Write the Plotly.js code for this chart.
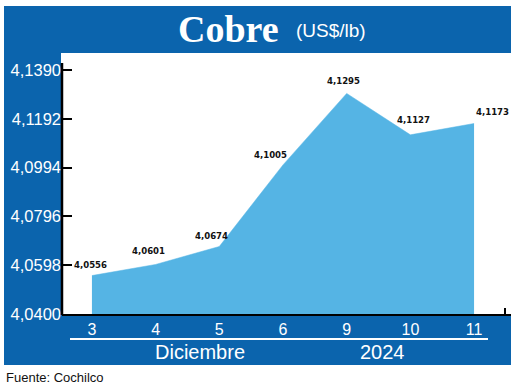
<!DOCTYPE html>
<html>
<head>
<meta charset="utf-8">
<script src="https://cdn.plot.ly/plotly-3.0.1.min.js"></script>
<style>html,body{margin:0;padding:0;background:#fff;}#chart{width:520px;height:387px;}</style>
</head>
<body>
<div id="chart"></div>
<script>
// Data
const days = ["3", "4", "5", "6", "9", "10", "11"];
const prices = [4.0556, 4.0601, 4.0674, 4.1005, 4.1295, 4.1127, 4.1173];
const priceLabels = ["4,0556", "4,0601", "4,0674", "4,1005", "4,1295", "4,1127", "4,1173"];
const yTickVals = [4.0400, 4.0598, 4.0796, 4.0994, 4.1192, 4.1390];
const yTickText = ["4,0400", "4,0598", "4,0796", "4,0994", "4,1192", "4,1390"];
const monthLabel = "Diciembre";
const yearLabel = "2024";

// Style / layout helpers
const W = 520, H = 387;
const M = {l: 62, r: 9, t: 53, b: 73};
const PW = W - M.l - M.r, PH = H - M.t - M.b;
const px = x => (x - M.l) / PW;
const py = y => (H - M.b - y) / PH;
const BLUE = "#0b64ad";
const AREA = "#55b4e4";
const labelShift = [[-1, 4], [-7, 6], [-8, 3], [-13, 3], [-3, 5], [3, 8], [18, 4]];

const trace = {
  x: days, y: prices, type: "scatter", mode: "lines",
  fill: "tozeroy", fillcolor: AREA,
  line: {color: AREA, width: 0.5}, hoverinfo: "skip"
};

const annotations = days.map((d, i) => ({
  x: i, y: prices[i], xref: "x", yref: "y", text: "<b>" + priceLabels[i] + "</b>",
  showarrow: false, xanchor: "center", yanchor: "bottom",
  xshift: labelShift[i][0], yshift: labelShift[i][1],
  font: {family: "DejaVu Sans Condensed, Liberation Sans, sans-serif", size: 9.5, color: "#111"}
}));

annotations.push(
  {xref: "paper", yref: "paper", x: px(228), y: py(29), text: "<b>Cobre</b>", showarrow: false,
   xanchor: "center", yanchor: "middle", font: {family: "Liberation Serif, serif", size: 38, color: "#fff"}},
  {xref: "paper", yref: "paper", x: px(331), y: py(31), text: "(US$/lb)", showarrow: false,
   xanchor: "center", yanchor: "middle", font: {family: "Liberation Sans, Arial, sans-serif", size: 19, color: "#fff"}},
  {xref: "paper", yref: "paper", x: px(200), y: py(352), text: monthLabel, showarrow: false,
   xanchor: "center", yanchor: "middle", font: {family: "Liberation Sans, Arial, sans-serif", size: 20, color: "#fff"}},
  {xref: "paper", yref: "paper", x: px(382), y: py(352), text: yearLabel, showarrow: false,
   xanchor: "center", yanchor: "middle", font: {family: "Liberation Sans, Arial, sans-serif", size: 20, color: "#fff"}},
  {xref: "paper", yref: "paper", x: px(4), y: py(377), text: "Fuente: Cochilco", showarrow: false,
   xanchor: "left", yanchor: "middle", font: {family: "Liberation Sans, Arial, sans-serif", size: 13, color: "#111"}}
);

const shapes = [
  {type: "rect", xref: "paper", yref: "paper", layer: "below", x0: px(4), x1: px(511), y0: py(6), y1: py(53), fillcolor: BLUE, line: {width: 0}},
  {type: "rect", xref: "paper", yref: "paper", layer: "below", x0: px(4), x1: px(61), y0: py(53), y1: py(365), fillcolor: BLUE, line: {width: 0}},
  {type: "rect", xref: "paper", yref: "paper", layer: "below", x0: px(4), x1: px(511), y0: py(314), y1: py(365), fillcolor: BLUE, line: {width: 0}},
  {type: "line", xref: "paper", yref: "paper", layer: "above", x0: px(70), x1: px(488), y0: py(339), y1: py(339), line: {color: "#fff", width: 2}},
  {type: "line", xref: "paper", yref: "paper", layer: "above", x0: px(505), x1: px(505), y0: py(314), y1: py(308), line: {color: "#000", width: 2}},
  {type: "line", xref: "paper", yref: "paper", layer: "above", x0: px(62), x1: px(62), y0: py(63), y1: py(315), line: {color: "#000", width: 2.5}}
];

const layout = {
  width: W, height: H, margin: M,
  paper_bgcolor: "#fff", plot_bgcolor: "#fff",
  showlegend: false,
  xaxis: {
    type: "category", range: [-0.47, 6.58], fixedrange: true,
    showgrid: false, zeroline: false, showline: true, linecolor: "#000", linewidth: 2,
    ticks: "", tickfont: {family: "Liberation Sans, Arial, sans-serif", size: 16, color: "#fff"}
  },
  yaxis: {
    range: [4.04, 4.1459], fixedrange: true,
    tickvals: yTickVals, ticktext: yTickText,
    showgrid: false, zeroline: false, showline: false,
    ticks: "inside", ticklen: 10, tickwidth: 2, tickcolor: "#000",
    tickfont: {family: "Liberation Sans, Arial, sans-serif", size: 16.5, color: "#fff"}
  },
  shapes: shapes,
  annotations: annotations
};

Plotly.newPlot("chart", [trace], layout, {displayModeBar: false, staticPlot: true});
</script>
</body>
</html>
